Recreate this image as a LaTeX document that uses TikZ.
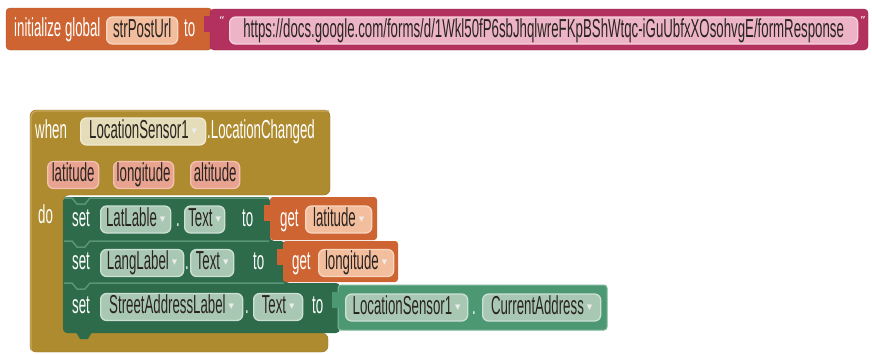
\documentclass[tikz,border=0pt]{standalone}
\usepackage{fontspec}
\setmainfont{Liberation Sans}[FakeStretch=0.51]
\newfontfamily\symfont{DejaVu Sans}
\definecolor{oblk}{HTML}{CE6431}
\definecolor{oblkd}{HTML}{B5542A}
\definecolor{ofld}{HTML}{F3BE9E}
\definecolor{ofldb}{HTML}{F9D6C0}
\definecolor{mag}{HTML}{B3315E}
\definecolor{magd}{HTML}{9A2650}
\definecolor{urlf}{HTML}{EDB4C7}
\definecolor{urlb}{HTML}{F6D0DC}
\definecolor{gold}{HTML}{AF8B2F}
\definecolor{goldd}{HTML}{977526}
\definecolor{goldl}{HTML}{C9A85A}
\definecolor{goldf}{HTML}{E5DCB9}
\definecolor{goldfb}{HTML}{F1EAD0}
\definecolor{parf}{HTML}{E8A490}
\definecolor{parb}{HTML}{F3C1B1}
\definecolor{setg}{HTML}{2E6B4B}
\definecolor{setgl}{HTML}{5C9478}
\definecolor{valg}{HTML}{4C9872}
\definecolor{valgl}{HTML}{7DB89A}
\definecolor{gfld}{HTML}{A9C8B4}
\definecolor{gfldb}{HTML}{CCE0D3}
\definecolor{ftxt}{HTML}{2A2420}
\newcommand{\ddarrow}{\hspace{3pt}\raisebox{5pt}{\color{white!85!gray}\symfont\fontsize{7}{7}\selectfont ▼}}
\tikzset{
  base/.style={inner sep=0pt, text height=18.5pt, text depth=5.5pt, font=\fontsize{26}{26}\selectfont},
  lbl/.style={base, anchor=west, text=white},
  fld/.style={base, anchor=west, text=ftxt, rounded corners=6pt, line width=1.3pt, minimum height=27pt},
  ofield/.style={fld, fill=ofld, draw=ofldb},
  gfield/.style={fld, fill=gfld, draw=gfldb},
  yfield/.style={fld, fill=goldf, draw=goldfb},
  pfield/.style={fld, fill=parf, draw=parb},
  ufield/.style={fld, fill=urlf, draw=urlb},
  quote/.style={inner sep=0pt, text=white!90!pink, font=\symfont\fontsize{11}{11}\selectfont},
}
\begin{document}
\begin{tikzpicture}[x=1pt,y=-1pt]
\useasboundingbox (0,0) rectangle (872,354);
\fill[white] (0,0) rectangle (872,354);

% ---------- top row ----------
\fill[oblk, draw=oblkd, rounded corners=4pt] (6,8) rectangle (212,50);
\fill[mag, draw=magd, rounded corners=4pt] (210,9) rectangle (868,50);
\fill[mag] (204,16) rectangle (212,32);
\node[lbl] (ig) at (14,30) {initialize global};
\node[ofield, minimum width=71pt] (var) at (106,30.5) {strPostUrl};
\node[lbl] (to0) at (184,30) {to};
\node[quote] (q1) at (222,20) {“};
\node[ufield, minimum width=628pt] (url) at (229,30.5) {https://docs.google.com/forms/d/1Wkl50fP6sbJhqlwreFKpBShWtqc-iGuUbfxXOsohvgE/formResponse};
\node[quote] (q2) at (863,20) {”};

% ---------- event block ----------
\fill[gold, draw=goldd, rounded corners=6pt]
  (30,110) -- (330,110) -- (330,195) -- (63,195) -- (63,333) -- (328,333) -- (328,352) -- (30,352) -- cycle;
\draw[goldl, line width=1.2pt, rounded corners=6pt] (31,350) -- (31,111) -- (329,111);
\node[lbl] (when) at (35,131.5) {when};
\node[yfield, minimum width=125pt] (ls) at (80,131.5) {LocationSensor1\ddarrow};
\node[lbl] (lc) at (207,131.5) {.LocationChanged};
\node[pfield, minimum width=51pt] (p1) at (47,175) {latitude};
\node[pfield, minimum width=60pt] (p2) at (113,175) {longitude};
\node[pfield, minimum width=49pt] (p3) at (190,175) {altitude};
\node[lbl] (do) at (38,217) {do};

% ---------- set blocks ----------
\fill[setg, rounded corners=4pt]
  (63,197) -- (270,197) -- (270,241) -- (285,241) -- (285,283) -- (340,283) -- (340,333) -- (63,333) -- cycle;
\fill[setg] (76,332) -- (80,339) -- (88,339) -- (92,332) -- cycle;
\draw[setgl, line width=1.5pt] (64,241) -- (72,241) -- (77,247) -- (85,247) -- (90,241) -- (269,241);
\draw[setgl, line width=1.5pt] (64,283) -- (72,283) -- (77,289) -- (85,289) -- (90,283) -- (284,283);
\draw[setgl, line width=1.5pt] (64,198) -- (72,198) -- (77,204) -- (85,204) -- (90,198) -- (269,198);

% row 1
\node[lbl] (s1) at (72,219.5) {set};
\node[gfield, minimum width=70pt] (c1) at (100,219.5) {LatLable\ddarrow};
\node[lbl] (d1) at (176,219.5) {.};
\node[gfield, minimum width=40pt] (t1) at (184,219.5) {Text\ddarrow};
\node[lbl] (to1) at (242,219.5) {to};
\fill[oblk, rounded corners=3pt] (270,197) rectangle (377,240);
\fill[oblk] (264,205) rectangle (272,221);
\node[lbl] (g1) at (280,219.5) {get};
\node[ofield, minimum width=66pt] (v1) at (305,219.5) {latitude\ddarrow};

% row 2
\node[lbl] (s2) at (72,263) {set};
\node[gfield, minimum width=83pt] (c2) at (100,263) {LangLabel\ddarrow};
\node[lbl] (d2) at (185,263) {.};
\node[gfield, minimum width=43pt] (t2) at (190,263) {Text\ddarrow};
\node[lbl] (to2) at (253,263) {to};
\fill[oblk, rounded corners=3pt] (283,241) rectangle (398,282);
\fill[oblk] (277,249) rectangle (285,265);
\node[lbl] (g2) at (292,263) {get};
\node[ofield, minimum width=75pt] (v2) at (318,263) {longitude\ddarrow};

% row 3
\node[lbl] (s3) at (72,307) {set};
\node[gfield, minimum width=142pt] (c3) at (100,307) {StreetAddressLabel\ddarrow};
\node[lbl] (d3) at (245,307) {.};
\node[gfield, minimum width=49pt] (t3) at (253,307) {Text\ddarrow};
\node[lbl] (to3) at (312,307) {to};
\fill[valg, draw=valgl, line width=1pt, rounded corners=3pt] (338,285) rectangle (607,330);
\fill[valg] (332,292) rectangle (340,308);
\node[gfield, minimum width=122pt] (ls2) at (345,307.5) {LocationSensor1\ddarrow};
\node[lbl] (d4) at (472,307.5) {.};
\node[gfield, minimum width=118pt] (ca) at (482,307.5) {CurrentAddress\ddarrow};
\end{tikzpicture}
\end{document}
